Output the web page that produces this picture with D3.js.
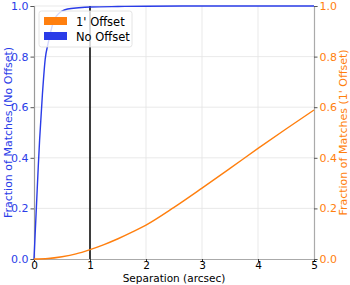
<!DOCTYPE html>
<html>
<head>
<meta charset="utf-8">
<script src="https://cdn.jsdelivr.net/npm/d3@7"></script>
<style>
  body { margin: 0; background: #fff; }
  svg { font-family: "DejaVu Sans", sans-serif; display: block; }
</style>
</head>
<body>
<script>
// separation grid (arcsec) and cumulative match fractions
var sepNoOffset = [0, 0.025, 0.05, 0.075, 0.1, 0.15, 0.2, 0.25, 0.3, 0.35, 0.4, 0.5, 0.6, 0.8, 1.0, 1.5, 2, 3, 5];
var fracNoOffset = [0, 0.12, 0.24, 0.36, 0.47, 0.65, 0.79, 0.85, 0.9, 0.94, 0.96, 0.98, 0.988, 0.993, 0.996, 0.998, 0.999, 1, 1];

var sepOffset = [0, 0.25, 0.5, 0.75, 1, 1.25, 1.5, 1.75, 2, 2.5, 3, 3.5, 4, 4.5, 5];
var fracOffset = [0, 0.002, 0.009, 0.02, 0.037, 0.057, 0.08, 0.106, 0.134, 0.204, 0.28, 0.358, 0.437, 0.514, 0.589];

var xTicks = [0, 1, 2, 3, 4, 5];
var yTicks = [0, 0.2, 0.4, 0.6, 0.8, 1.0];
var legendLabels = ["1' Offset", "No Offset"];

var blue = "#2a3ce8";
var orange = "#ff7f0e";
var fs = 11;
var fsx = 10.5;

var w = 350, h = 285;
var margin = {left: 34, right: 36, top: 6, bottom: 26};

var xScale = d3.scaleLinear().domain([0, 5]).range([margin.left, w - margin.right]);
var yLeft = d3.scaleLinear().domain([0, 1]).range([h - margin.bottom, margin.top]);
var yRight = d3.scaleLinear().domain([0, 1]).range([h - margin.bottom, margin.top]);

var svg = d3.select("body").append("svg")
    .attr("width", w)
    .attr("height", h);

// grid
svg.append("g")
    .selectAll("line")
    .data(xTicks.slice(1, -1))
    .enter().append("line")
    .attr("x1", function (d) { return xScale(d); })
    .attr("x2", function (d) { return xScale(d); })
    .attr("y1", yLeft(0))
    .attr("y2", yLeft(1))
    .attr("stroke", "#e3e3e3")
    .attr("stroke-width", 0.8);

svg.append("g")
    .selectAll("line")
    .data(yTicks.slice(1))
    .enter().append("line")
    .attr("x1", xScale(0))
    .attr("x2", xScale(5))
    .attr("y1", function (d) { return yLeft(d); })
    .attr("y2", function (d) { return yLeft(d); })
    .attr("stroke", "#e3e3e3")
    .attr("stroke-width", 0.8);

// axes
var xAxis = svg.append("g")
    .attr("transform", "translate(0," + yLeft(0) + ")")
    .call(d3.axisBottom(xScale).tickValues(xTicks).tickFormat(d3.format("d")).tickSize(3).tickPadding(0));
xAxis.selectAll("text").attr("font-size", fsx).attr("fill", "#000").attr("font-family", "'DejaVu Sans', sans-serif");
xAxis.selectAll("line").attr("stroke", "#333");
xAxis.select(".domain").attr("stroke", "#aaa").attr("stroke-width", 1.2);

var leftAxis = svg.append("g")
    .attr("transform", "translate(" + margin.left + ",0)")
    .call(d3.axisLeft(yLeft).tickValues(yTicks).tickFormat(d3.format(".1f")).tickSize(3.5).tickPadding(2));
leftAxis.selectAll("text").attr("font-size", fs).attr("fill", blue).attr("font-family", "'DejaVu Sans', sans-serif");
leftAxis.selectAll("line").attr("stroke", "#555");
leftAxis.select(".domain").attr("stroke", "#999").attr("stroke-width", 1.2);

var rightAxis = svg.append("g")
    .attr("transform", "translate(" + (w - margin.right) + ",0)")
    .call(d3.axisRight(yRight).tickValues(yTicks).tickFormat(d3.format(".1f")).tickSize(3.5).tickPadding(2));
rightAxis.selectAll("text").attr("font-size", fs).attr("fill", orange).attr("font-family", "'DejaVu Sans', sans-serif");
rightAxis.selectAll("line").attr("stroke", "#555");
rightAxis.select(".domain").attr("stroke", "#aaa").attr("stroke-width", 1.2);

// vertical line at 1 arcsec
svg.append("line")
    .attr("x1", xScale(1)).attr("x2", xScale(1))
    .attr("y1", yLeft(0)).attr("y2", yLeft(1))
    .attr("stroke", "#000")
    .attr("stroke-width", 1.5);

// curves
var lineNo = d3.line()
    .x(function (d, i) { return xScale(sepNoOffset[i]); })
    .y(function (d) { return yLeft(d); })
    .curve(d3.curveMonotoneX);

svg.append("path")
    .datum(fracNoOffset)
    .attr("fill", "none")
    .attr("stroke", blue)
    .attr("stroke-width", 1.4)
    .attr("d", lineNo);

var lineOff = d3.line()
    .x(function (d, i) { return xScale(sepOffset[i]); })
    .y(function (d) { return yRight(d); })
    .curve(d3.curveMonotoneX);

svg.append("path")
    .datum(fracOffset)
    .attr("fill", "none")
    .attr("stroke", orange)
    .attr("stroke-width", 1.4)
    .attr("d", lineOff);

// legend
var legend = svg.append("g").attr("transform", "translate(39,11)");
legend.append("rect")
    .attr("width", 93).attr("height", 36)
    .attr("rx", 2.5)
    .attr("fill", "#fff").attr("fill-opacity", 0.8)
    .attr("stroke", "#ddd").attr("stroke-width", 0.8);

var legendColors = [orange, blue];
legend.selectAll(".item")
    .data(legendLabels)
    .enter().append("g")
    .attr("transform", function (d, i) { return "translate(5," + (6 + i * 15) + ")"; })
    .each(function (d, i) {
        var g = d3.select(this);
        g.append("rect").attr("width", 23).attr("height", 8).attr("fill", legendColors[i]);
        g.append("text").attr("x", 32).attr("y", 8.5).attr("font-size", 11.5).attr("fill", "#000").text(d);
    });

// axis labels
svg.append("text")
    .attr("text-anchor", "middle")
    .attr("x", xScale(2.5))
    .attr("y", 282)
    .attr("font-size", fsx)
    .text("Separation (arcsec)");

svg.append("text")
    .attr("text-anchor", "middle")
    .attr("transform", "translate(11.5," + yLeft(0.5) + ") rotate(-90)")
    .attr("font-size", fs)
    .attr("fill", blue)
    .text("Fraction of Matches (No Offset)");

svg.append("text")
    .attr("text-anchor", "middle")
    .attr("transform", "translate(347," + yLeft(0.5) + ") rotate(-90)")
    .attr("font-size", fs)
    .attr("fill", orange)
    .text("Fraction of Matches (1' Offset)");
</script>
</body>
</html>
